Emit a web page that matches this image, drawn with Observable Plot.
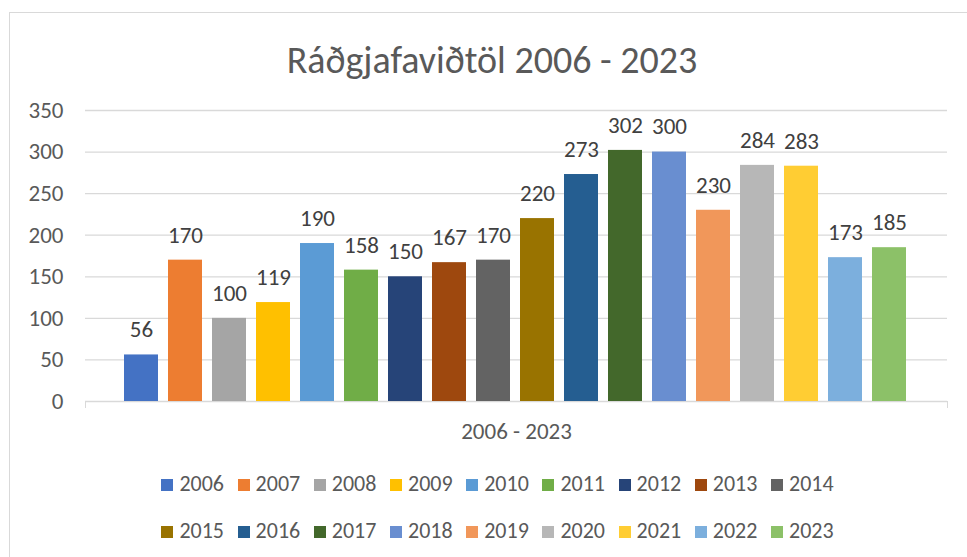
<!DOCTYPE html>
<html>
<head>
<meta charset="utf-8">
<script src="https://cdn.jsdelivr.net/npm/d3@7"></script>
<script src="https://cdn.jsdelivr.net/npm/@observablehq/plot@0.6"></script>
<style>
  html, body { margin: 0; padding: 0; background: #fff; }
  #chart { position: relative; width: 967px; height: 557px; overflow: hidden; background: #fff;
    font-family: Carlito, Calibri, "Liberation Sans Narrow", "Open Sans", sans-serif; }
  #border { position: absolute; left: 9px; top: 12px; width: 980px; height: 600px; border: 1px solid #d9d9d9; box-sizing: border-box; }
  #title { position: absolute; top: 41px; left: 0; width: 984px; text-align: center; font-size: 38px; line-height: 38px; color: #595959; }
  #plot { position: absolute; left: 0; top: 0; }
  .endtick { position: absolute; width: 1px; height: 7px; background: #d9d9d9; top: 401px; }
  .legrow { position: absolute; left: 0; width: 995px; display: flex; justify-content: center; font-size: 22px; line-height: 22px; color: #595959; }
  .legitem { display: flex; align-items: center; margin: 0 6.8px; }
  .sw { width: 12px; height: 12px; margin-right: 6px; margin-top: 2px; }
</style>
</head>
<body>
<div id="chart">
  <div id="border"></div>
  <div id="title">Ráðgjafaviðtöl 2006 - 2023</div>
  <div id="plot"></div>
  <div class="endtick" style="left:85px"></div>
  <div class="endtick" style="left:947px"></div>
  <div class="legrow" id="leg1" style="top:473px"></div>
  <div class="legrow" id="leg2" style="top:520px"></div>
</div>
<script>
const years = ["2006","2007","2008","2009","2010","2011","2012","2013","2014","2015","2016","2017","2018","2019","2020","2021","2022","2023"];
const values = [56,170,100,119,190,158,150,167,170,220,273,302,300,230,284,283,173,185];
const colors = ["#4472C4","#ED7D31","#A5A5A5","#FFC000","#5B9BD5","#70AD47","#264478","#9E480E","#636363","#997300","#255E91","#43682B","#698ED0","#F1975A","#B7B7B7","#FFCD33","#7CAFDD","#8CC168"];
const yTicks = [0,50,100,150,200,250,300,350];
const xLabel = "2006 - 2023";

const data = years.map((y, i) => ({year: y, value: values[i]}));

const plot = Plot.plot({
  width: 967,
  height: 450,
  marginLeft: 85,
  marginRight: 20,
  marginTop: 110,
  marginBottom: 49,
  style: {fontFamily: 'Carlito, Calibri, "Liberation Sans Narrow", "Open Sans", sans-serif', background: "transparent"},
  x: {domain: years, range: [122, 909], paddingInner: 0.22, paddingOuter: 0},
  y: {domain: [0, 350]},
  color: {domain: years, range: colors},
  marks: [
    Plot.ruleY(yTicks, {stroke: "#d9d9d9", strokeWidth: 1.3}),
    Plot.axisY({ticks: yTicks, tickSize: 0, tickPadding: 22, label: null, fontSize: 23, fill: "#595959"}),
    Plot.axisX({ticks: [], tickSize: 0, label: xLabel, labelAnchor: "center", labelArrow: "none", labelOffset: 37, fontSize: 23, fill: "#595959"}),
    Plot.barY(data, {x: "year", y: "value", fill: "year"}),
    Plot.text(data, {x: "year", y: "value", text: d => String(d.value), dy: -25, fontSize: 23, fill: "#404040"})
  ]
});
document.getElementById("plot").appendChild(plot);

const color = plot.scale("color");
function buildRow(el, ys) {
  ys.forEach(y => {
    const it = document.createElement("div");
    it.className = "legitem";
    const sw = document.createElement("div");
    sw.className = "sw";
    sw.style.background = color.apply(y);
    const t = document.createElement("span");
    t.textContent = y;
    it.appendChild(sw); it.appendChild(t);
    el.appendChild(it);
  });
}
buildRow(document.getElementById("leg1"), years.slice(0, 9));
buildRow(document.getElementById("leg2"), years.slice(9));
</script>
</body>
</html>
